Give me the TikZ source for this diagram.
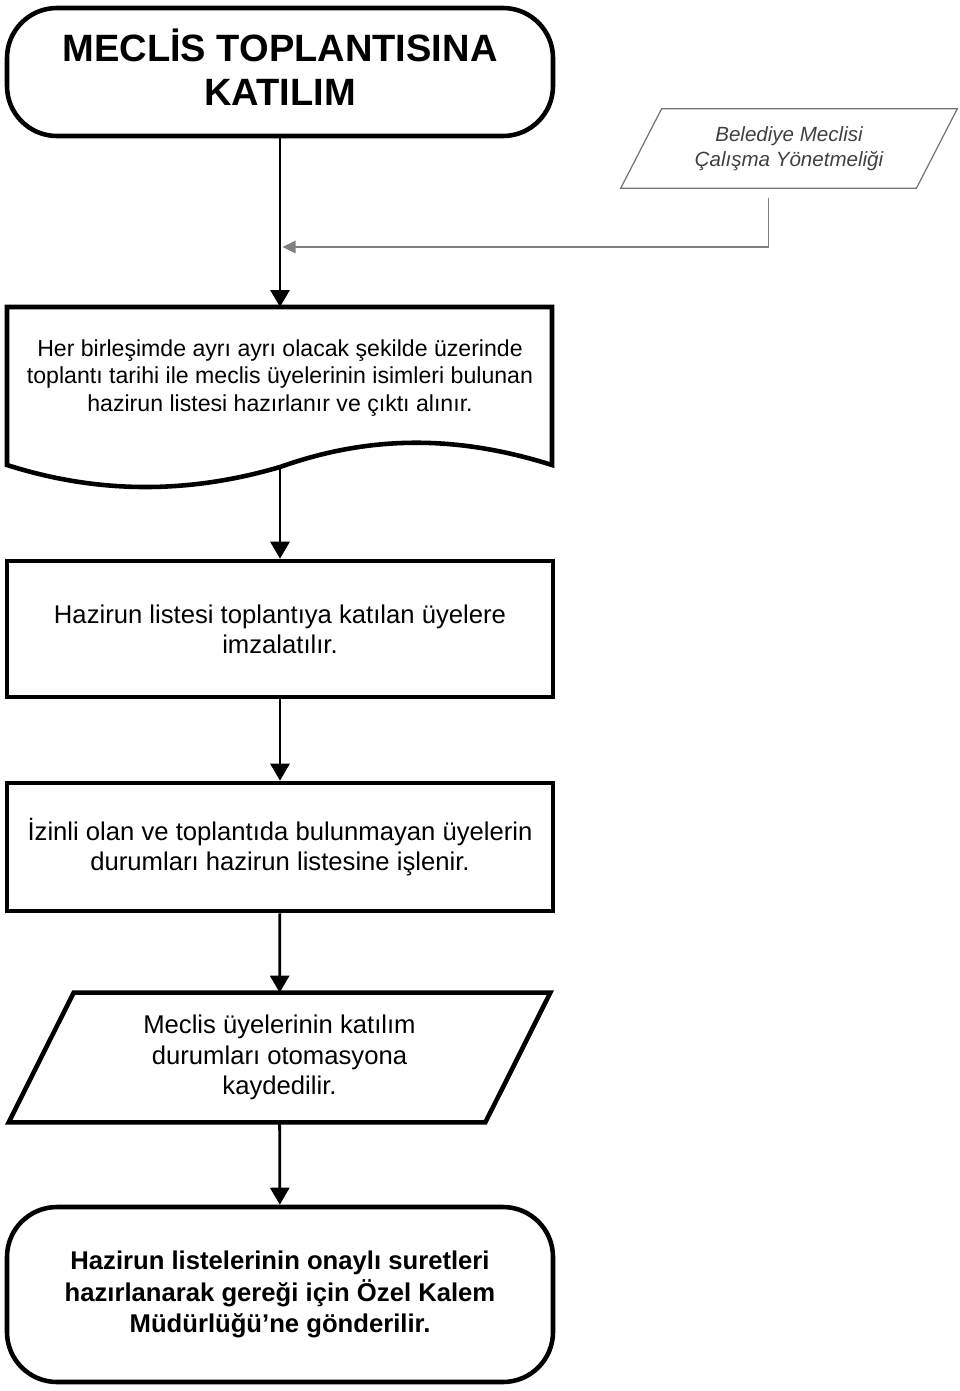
\documentclass[tikz,border=0pt]{standalone}
\usepackage{fontspec}
\setmainfont{Liberation Sans}
\usetikzlibrary{arrows.meta}

\begin{document}
\begin{tikzpicture}[scale=1,
                kutu/.style={rectangle, draw, line width=2.6pt, minimum width=10.92cm, align=center, font=\fontsize{14.6}{17}\selectfont},
                uc/.style={kutu, rounded corners=1cm, font=\bfseries\fontsize{14.6}{17.9}\selectfont},
                ok/.style={line width=1.6pt, -{Triangle[length=0.34cm, width=0.38cm]}},
                gri/.style={draw=black!50, line width=0.8pt, -{Triangle[length=0.26cm, width=0.25cm]}}]
                \useasboundingbox (0,0) rectangle (19.2,-27.82);
                \node[uc, minimum height=2.56cm, text depth=0.2cm, font=\bfseries\fontsize{21.66}{25}\selectfont] (baslik) at (5.6,-1.44) {MECLİS TOPLANTISINA\\KATILIM};
                \node[minimum width=6.72cm, minimum height=1.58cm, align=center, text=black!75, font=\itshape\fontsize{11.7}{13.9}\selectfont] (yonetmelik) at (15.78,-2.97) {Belediye Meclisi\\Çalışma Yönetmeliği};
                \draw[black!55, line width=0.7pt] ([xshift=0.82cm]yonetmelik.north west) -- (yonetmelik.north east) -- ([xshift=-0.82cm]yonetmelik.south east) -- (yonetmelik.south west) -- cycle;
                \coordinate (belge) at (5.6,-6.14);
                \coordinate (dalga) at (5.6,-9.34);
                \coordinate (kesisim) at (5.6,-4.94);
                \draw[line width=2.6pt] (0.14,-9.3) -- (0.14,-6.14) -- (11.04,-6.14) -- (11.04,-9.3) .. controls (9.14,-8.7) and (7.4,-8.7) .. (5.6,-9.34) .. controls (3.76,-9.88) and (1.96,-9.88) .. (0.14,-9.3) -- cycle;
                \node[align=center, font=\fontsize{13.15}{15.6}\selectfont] (liste) at (5.6,-7.56) {Her birleşimde ayrı ayrı olacak şekilde üzerinde\\toplantı tarihi ile meclis üyelerinin isimleri bulunan\\hazirun listesi hazırlanır ve çıktı alınır.};
                \node[kutu, minimum height=2.72cm] (imza) at (5.6,-12.58) {Hazirun listesi toplantıya katılan üyelere\\imzalatılır.};
                \node[kutu, minimum height=2.56cm] (izin) at (5.6,-16.94) {İzinli olan ve toplantıda bulunmayan üyelerin\\durumları hazirun listesine işlenir.};
                \node[minimum width=10.82cm, minimum height=2.58cm, align=center, font=\fontsize{14.6}{17.2}\selectfont] (kayit) at (5.59,-21.15) {Meclis üyelerinin katılım\\durumları otomasyona\\kaydedilir.};
                \draw[line width=2.6pt] ([xshift=1.3cm]kayit.north west) -- (kayit.north east) -- ([xshift=-1.3cm]kayit.south east) -- (kayit.south west) -- cycle;
                \node[uc, minimum height=3.5cm] (son) at (5.6,-25.89) {Hazirun listelerinin onaylı suretleri\\hazırlanarak gereği için Özel Kalem\\Müdürlüğü’ne gönderilir.};
                \draw[ok] (baslik) -- (belge);
                \draw[gri, shorten <=0.2cm, shorten >=0.05cm] ([xshift=-0.41cm]yonetmelik.south) |- (kesisim);
                \draw[ok] (dalga) -- (imza);
                \draw[ok] (imza) -- (izin);
                \draw[ok] (izin) -- (kayit);
                \draw[ok] (kayit) -- (son);
                \end{tikzpicture}
\end{document}
